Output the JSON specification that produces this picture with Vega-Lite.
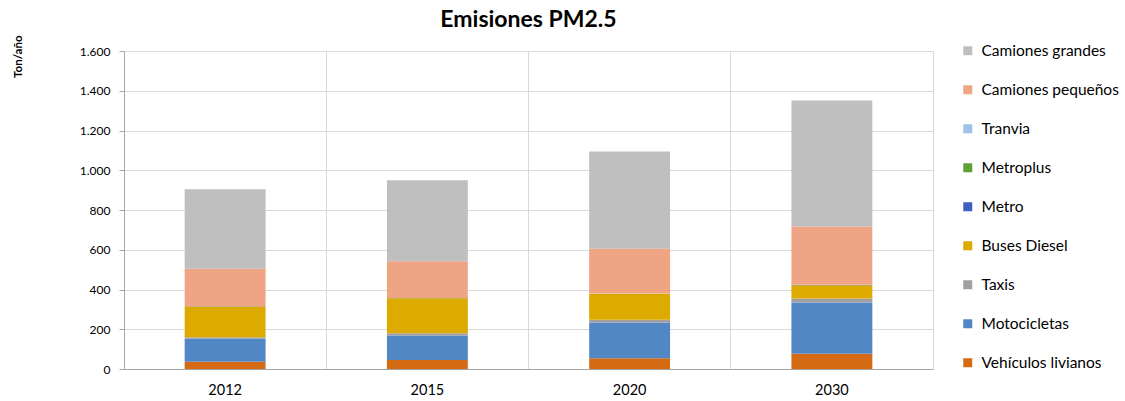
{
  "$schema": "https://vega.github.io/schema/vega-lite/v6.json",
  "width": 809,
  "height": 318,
  "autosize": "none",
  "padding": {"left": 124, "top": 51, "right": 192, "bottom": 32},
  "background": "white",
  "config": {
    "font": "Lato",
    "view": {"stroke": "#D9D9D9", "strokeWidth": 1}
  },
  "title": {
    "text": "Emisiones PM2.5",
    "font": "Lato",
    "fontSize": 23,
    "fontWeight": "bold",
    "color": "#000000",
    "anchor": "middle",
    "offset": 3
  },
  "data": {
    "values": [
      {"year": "2012", "cat": "Vehículos livianos", "idx": 1, "v": 37},
      {"year": "2012", "cat": "Motocicletas", "idx": 2, "v": 115},
      {"year": "2012", "cat": "Taxis", "idx": 3, "v": 8},
      {"year": "2012", "cat": "Buses Diesel", "idx": 4, "v": 155},
      {"year": "2012", "cat": "Metro", "idx": 5, "v": 0.5},
      {"year": "2012", "cat": "Metroplus", "idx": 6, "v": 0.5},
      {"year": "2012", "cat": "Tranvia", "idx": 7, "v": 0},
      {"year": "2012", "cat": "Camiones pequeños", "idx": 8, "v": 189},
      {"year": "2012", "cat": "Camiones grandes", "idx": 9, "v": 400},
      {"year": "2015", "cat": "Vehículos livianos", "idx": 1, "v": 45},
      {"year": "2015", "cat": "Motocicletas", "idx": 2, "v": 123},
      {"year": "2015", "cat": "Taxis", "idx": 3, "v": 12},
      {"year": "2015", "cat": "Buses Diesel", "idx": 4, "v": 176},
      {"year": "2015", "cat": "Metro", "idx": 5, "v": 0.5},
      {"year": "2015", "cat": "Metroplus", "idx": 6, "v": 0.5},
      {"year": "2015", "cat": "Tranvia", "idx": 7, "v": 0.5},
      {"year": "2015", "cat": "Camiones pequeños", "idx": 8, "v": 185},
      {"year": "2015", "cat": "Camiones grandes", "idx": 9, "v": 407},
      {"year": "2020", "cat": "Vehículos livianos", "idx": 1, "v": 54},
      {"year": "2020", "cat": "Motocicletas", "idx": 2, "v": 179},
      {"year": "2020", "cat": "Taxis", "idx": 3, "v": 15},
      {"year": "2020", "cat": "Buses Diesel", "idx": 4, "v": 130},
      {"year": "2020", "cat": "Metro", "idx": 5, "v": 0.5},
      {"year": "2020", "cat": "Metroplus", "idx": 6, "v": 0.5},
      {"year": "2020", "cat": "Tranvia", "idx": 7, "v": 0.5},
      {"year": "2020", "cat": "Camiones pequeños", "idx": 8, "v": 225},
      {"year": "2020", "cat": "Camiones grandes", "idx": 9, "v": 490},
      {"year": "2030", "cat": "Vehículos livianos", "idx": 1, "v": 77},
      {"year": "2030", "cat": "Motocicletas", "idx": 2, "v": 258},
      {"year": "2030", "cat": "Taxis", "idx": 3, "v": 20},
      {"year": "2030", "cat": "Buses Diesel", "idx": 4, "v": 67},
      {"year": "2030", "cat": "Metro", "idx": 5, "v": 0.5},
      {"year": "2030", "cat": "Metroplus", "idx": 6, "v": 0.5},
      {"year": "2030", "cat": "Tranvia", "idx": 7, "v": 0.5},
      {"year": "2030", "cat": "Camiones pequeños", "idx": 8, "v": 293},
      {"year": "2030", "cat": "Camiones grandes", "idx": 9, "v": 634}
    ]
  },
  "layer": [
    {
      "mark": {"type": "bar", "width": {"band": 0.4}},
      "encoding": {
        "x": {
          "field": "year",
          "type": "nominal",
          "scale": {"paddingInner": 0, "paddingOuter": 0},
          "axis": {
            "title": null,
            "labelAngle": 0,
            "labelFontSize": 14.5,
            "labelColor": "#000000",
            "labelPadding": 14,
            "ticks": false,
            "domainColor": "#A6A6A6",
            "grid": false
          }
        },
        "y": {
          "field": "v",
          "type": "quantitative",
          "stack": "zero",
          "scale": {"domain": [0, 1600], "nice": false},
          "axis": {
            "values": [0, 200, 400, 600, 800, 1000, 1200, 1400, 1600],
            "labelExpr": "replace(format(datum.value, ','), ',', '.')",
            "labelFontSize": 12,
            "labelColor": "#000000",
            "labelPadding": 9,
            "tickSize": 5,
            "tickColor": "#A6A6A6",
            "domainColor": "#A6A6A6",
            "gridColor": "#D9D9D9",
            "title": "Ton/año",
            "titleFontSize": 11.5,
            "titleFontWeight": "bold",
            "titleColor": "#000000",
            "titleAngle": 270,
            "titleAlign": "right",
            "titleBaseline": "middle",
            "titleX": -106,
            "titleY": -16
          }
        },
        "order": {"field": "idx", "type": "quantitative", "sort": "ascending"},
        "color": {
          "field": "cat",
          "type": "nominal",
          "scale": {
            "domain": ["Camiones grandes", "Camiones pequeños", "Tranvia", "Metroplus", "Metro", "Buses Diesel", "Taxis", "Motocicletas", "Vehículos livianos"],
            "range": ["#BFBFBF", "#EFA583", "#9DC3E6", "#5FA139", "#3F5FC0", "#DDAA00", "#A0A0A0", "#5287C6", "#D46A14"]
          },
          "legend": {
            "title": null,
            "orient": "none",
            "legendX": 836,
            "legendY": -8,
            "padding": 0,
            "symbolType": "square",
            "symbolSize": 81,
            "symbolStrokeWidth": 0,
            "labelFontSize": 15.5,
            "labelColor": "#000000",
            "labelOffset": 6,
            "rowPadding": 22
          }
        }
      }
    },
    {
      "mark": {"type": "bar", "opacity": 0},
      "encoding": {
        "x": {
          "field": "year",
          "type": "nominal",
          "axis": {
            "orient": "top",
            "title": null,
            "labels": false,
            "ticks": false,
            "domain": false,
            "grid": true,
            "bandPosition": 0,
            "gridColor": "#D9D9D9"
          }
        }
      }
    }
  ],
  "resolve": {"axis": {"x": "independent"}}
}
